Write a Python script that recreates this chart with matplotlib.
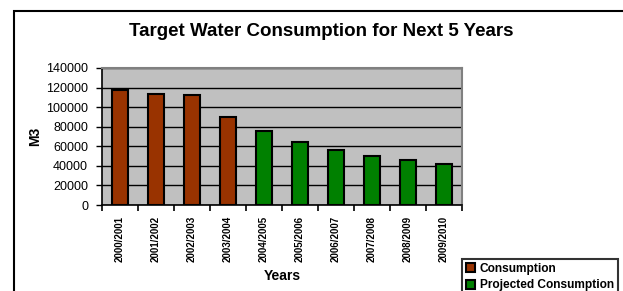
import matplotlib.pyplot as plt
import matplotlib.patches as mpatches
import numpy as np

plt.rcParams['font.family'] = ['Liberation Sans', 'DejaVu Sans']

# Seasons and water consumption (m3)
YEARS = ["2000/2001", "2001/2002", "2002/2003", "2003/2004", "2004/2005",
         "2005/2006", "2006/2007", "2007/2008", "2008/2009", "2009/2010"]
CONSUMPTION = [118000, 113000, 112000, 90000, None, None, None, None, None, None]
PROJECTED = [None, None, None, None, 76000, 64000, 56000, 50000, 46000, 42000]

BROWN = "#993300"
GREEN = "#008000"

fig = plt.figure(figsize=(6.23, 2.91), dpi=100)
ax = fig.add_axes([102 / 623, 1 - 205 / 291, 360 / 623, 137 / 291])

x = np.arange(len(YEARS))
c_idx = [i for i, v in enumerate(CONSUMPTION) if v is not None]
p_idx = [i for i, v in enumerate(PROJECTED) if v is not None]
ax.bar(c_idx, [CONSUMPTION[i] for i in c_idx], width=0.42, color=BROWN,
       edgecolor="black", linewidth=1.5, zorder=3, label="Consumption")
ax.bar(p_idx, [PROJECTED[i] for i in p_idx], width=0.42, color=GREEN,
       edgecolor="black", linewidth=1.5, zorder=3, label="Projected Consumption")

ax.set_facecolor("#C0C0C0")
ax.set_xlim(-0.5, len(YEARS) - 0.5)
ax.set_ylim(0, 140000)
ax.set_yticks(range(0, 140001, 20000))
ax.tick_params(axis="y", labelsize=9, length=4, width=1, pad=6)
ax.yaxis.grid(True, color="black", linewidth=1, zorder=1)

ax.set_xticks(x)
ax.set_xticklabels(YEARS, rotation=90, fontsize=7, fontweight="bold")
ax.set_xticks(np.arange(-0.5, len(YEARS)), minor=True)
ax.tick_params(axis="x", which="major", length=0, pad=8)
ax.tick_params(axis="x", which="minor", length=4, width=1.2, direction="out")

for side in ("top", "right"):
    ax.spines[side].set_color("#808080")
    ax.spines[side].set_linewidth(1.5)
for side in ("left", "bottom"):
    ax.spines[side].set_color("black")
    ax.spines[side].set_linewidth(1.2)

ax.set_xlabel("Years", fontsize=10, fontweight="bold", labelpad=5)
ax.set_ylabel("M3", fontsize=10, fontweight="bold", labelpad=3)

fig.text(321 / 623, 1 - 32 / 291, "Target Water Consumption for Next 5 Years",
         ha="center", va="center", fontsize=13.5, fontweight="bold")

# Outer chart border (runs off the right and bottom edges)
fig.patches.append(mpatches.Rectangle((14 / 623, -0.1), 1.0, 1 - 11 / 291 + 0.1,
                                      transform=fig.transFigure, fill=False,
                                      edgecolor="black", linewidth=1.5))

leg = fig.legend(loc="upper left", bbox_to_anchor=(462 / 623, 1 - 259 / 291),
                 prop={"size": 8.6, "weight": "bold"}, frameon=True,
                 fancybox=False, handlelength=0.8, handleheight=0.8,
                 handletextpad=0.4, borderpad=0.3, labelspacing=0.4,
                 borderaxespad=0)
leg.get_frame().set_edgecolor("black")
leg.get_frame().set_linewidth(1.5)

fig.savefig("out.png", dpi=100)
